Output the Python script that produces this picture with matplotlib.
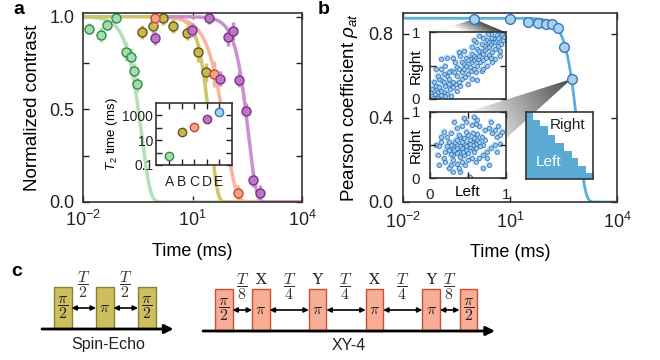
import numpy as np
import matplotlib.pyplot as plt
from matplotlib.patches import Rectangle, Polygon
from matplotlib.ticker import NullLocator

plt.rcParams['font.family'] = ['Liberation Sans', 'DejaVu Sans']
plt.rcParams['mathtext.fontset'] = 'custom'
plt.rcParams['mathtext.rm'] = 'Liberation Sans'
plt.rcParams['mathtext.it'] = 'Liberation Sans:italic'
plt.rcParams['mathtext.bf'] = 'Liberation Sans:bold'
plt.rcParams['axes.edgecolor'] = '#333333'

# ---- panel a: normalized contrast vs time, one series per sequence
green_t = [0.0146, 0.0306, 0.0463, 0.080, 0.151, 0.203, 0.249, 0.296]
green_y = [0.934, 0.903, 0.957, 0.993, 0.812, 0.782, 0.708, 0.636]
green_err = [0.03, 0.04, 0.03, 0.02, 0.05, 0.05, 0.04, 0.04]

olive_t = [0.405, 0.81, 1.58, 2.98, 6.9, 13.8, 23.4]
olive_y = [0.917, 0.951, 0.993, 0.951, 0.912, 0.807, 0.699]
olive_err = [0.04, 0.05, 0.04, 0.04, 0.04, 0.05, 0.05]

salmon_t = [0.95, 38, 180]
salmon_y = [0.993, 0.692, 0.05]
salmon_err = [0.04, 0.07, 0.04]

purple_t = [0.95, 9.8, 29, 55, 95, 131, 185, 286, 462, 705]
purple_y = [0.885, 0.928, 0.993, 0.665, 0.890, 0.924, 0.660, 0.492, 0.119, 0.050]
purple_err = [0.04, 0.04, 0.03, 0.04, 0.05, 0.05, 0.04, 0.04, 0.04, 0.04]

# fitted decay y = A exp(-(t/T)^n): (A, T, n, first time drawn)
green_fit = (1.0, 0.40, 1.8, 0.01)
olive_fit = (1.0, 31.0, 2.3, 0.01)
salmon_fit = (1.0, 80.0, 1.5, 0.9)
purple_fit = (1.0, 340.0, 2.0, 0.9)

# inset: T2 time per sequence
seq_names = ['A', 'B', 'C', 'D', 'E']
t2_ms = [0.56, 45, 126, 537, 1740]

# ---- panel b: Pearson coefficient vs time
pear_t = [1.0, 10, 31, 63, 102, 150, 218, 335, 535]
pear_y = [0.871, 0.871, 0.856, 0.851, 0.846, 0.846, 0.829, 0.737, 0.586]
pear_fit = (0.875, 814.0, 2.14)

# scatter insets (Left, Right) populations
early_left = [0.05, 0.08, 0.12, 0.15, 0.18, 0.22, 0.25, 0.28, 0.32, 0.35, 0.38, 0.42, 0.45, 0.48, 0.52,
              0.55, 0.58, 0.62, 0.65, 0.68, 0.72, 0.75, 0.78, 0.82, 0.85, 0.88, 0.92, 0.70, 0.60, 0.80,
              0.10, 0.14, 0.18, 0.22, 0.26, 0.30, 0.34, 0.38, 0.42, 0.46, 0.50, 0.54, 0.58, 0.62, 0.66,
              0.70, 0.74, 0.78, 0.82, 0.86, 0.90, 0.94, 0.96, 0.20, 0.40, 0.60, 0.80, 0.35, 0.55, 0.92,
              0.02, 0.04, 0.06, 0.03, 0.10, 0.12, 0.15, 0.20, 0.25, 0.18, 0.30, 0.33, 0.40, 0.42, 0.45,
              0.48, 0.50, 0.52, 0.55, 0.58, 0.60, 0.63, 0.65, 0.68, 0.70, 0.72, 0.75, 0.78, 0.80, 0.83,
              0.86, 0.88, 0.90, 0.95, 0.97, 0.62, 0.75, 0.85, 0.30, 0.22, 0.10, 0.08, 0.28, 0.50, 0.68,
              0.38, 0.55, 0.45, 0.15, 0.35, 0.25, 0.20, 0.15, 0.05, 0.92, 0.70, 0.82, 0.58, 0.65, 0.76]
early_right = [0.12, 0.20, 0.18, 0.28, 0.25, 0.35, 0.30, 0.42, 0.40, 0.48, 0.45, 0.55, 0.52, 0.62, 0.60,
               0.68, 0.65, 0.75, 0.72, 0.82, 0.80, 0.88, 0.85, 0.92, 0.90, 0.96, 0.95, 0.92, 0.85, 0.97,
               0.02, 0.06, 0.10, 0.08, 0.15, 0.18, 0.22, 0.25, 0.30, 0.33, 0.38, 0.42, 0.45, 0.50, 0.55,
               0.58, 0.62, 0.66, 0.70, 0.75, 0.80, 0.82, 0.88, 0.05, 0.20, 0.40, 0.62, 0.12, 0.30, 0.72,
               0.05, 0.02, 0.08, 0.15, 0.10, 0.30, 0.45, 0.50, 0.40, 0.38, 0.25, 0.55, 0.65, 0.40, 0.45,
               0.50, 0.58, 0.48, 0.55, 0.58, 0.62, 0.60, 0.65, 0.70, 0.68, 0.74, 0.76, 0.78, 0.82, 0.85,
               0.86, 0.88, 0.92, 0.97, 0.93, 0.28, 0.50, 0.60, 0.62, 0.62, 0.35, 0.45, 0.05, 0.22, 0.42,
               0.70, 0.78, 0.72, 0.60, 0.35, 0.22, 0.20, 0.12, 0.25, 0.65, 0.45, 0.55, 0.88, 0.95, 0.98]

late_left = [0.30, 0.35, 0.40, 0.45, 0.50, 0.55, 0.60, 0.38, 0.42, 0.48, 0.52, 0.58, 0.62, 0.33, 0.28,
             0.25, 0.45, 0.50, 0.40, 0.35, 0.55, 0.65, 0.68, 0.60, 0.45, 0.40, 0.50, 0.30, 0.22, 0.25,
             0.70, 0.72, 0.42, 0.47, 0.53, 0.57, 0.35, 0.38, 0.48, 0.56, 0.62, 0.44, 0.32, 0.27, 0.36,
             0.52, 0.58, 0.66,
             0.10, 0.12, 0.15, 0.18, 0.15, 0.20, 0.20, 0.28, 0.30, 0.35, 0.38, 0.42, 0.46, 0.50, 0.55,
             0.60, 0.65, 0.75, 0.80, 0.85, 0.88, 0.92, 0.82, 0.78, 0.72, 0.65, 0.60, 0.55, 0.48, 0.42,
             0.35, 0.28, 0.22, 0.18, 0.25, 0.52, 0.70, 0.78, 0.85, 0.90, 0.95, 0.80, 0.58, 0.62, 0.45,
             0.32, 0.70, 0.75, 0.12, 0.08, 0.40, 0.30, 0.88, 0.92]
late_right = [0.45, 0.50, 0.48, 0.52, 0.50, 0.55, 0.52, 0.40, 0.45, 0.42, 0.58, 0.60, 0.58, 0.55, 0.50,
              0.42, 0.60, 0.65, 0.62, 0.38, 0.45, 0.55, 0.62, 0.45, 0.35, 0.32, 0.38, 0.35, 0.48, 0.55,
              0.50, 0.58, 0.55, 0.48, 0.47, 0.50, 0.58, 0.65, 0.70, 0.68, 0.66, 0.40, 0.42, 0.36, 0.45,
              0.52, 0.40, 0.48,
              0.35, 0.48, 0.55, 0.30, 0.62, 0.40, 0.25, 0.20, 0.28, 0.22, 0.15, 0.25, 0.20, 0.28, 0.30,
              0.25, 0.30, 0.40, 0.45, 0.50, 0.62, 0.65, 0.68, 0.75, 0.72, 0.78, 0.82, 0.80, 0.85, 0.78,
              0.75, 0.68, 0.62, 0.70, 0.15, 0.02, 0.15, 0.20, 0.72, 0.78, 0.70, 0.85, 0.92, 0.88, 0.90,
              0.85, 0.35, 0.30, 0.20, 0.50, 0.10, 0.10, 0.40, 0.52]

# staircase inset (Left filling up to each level)
stair_edges = [0.0, 0.1, 0.21, 0.33, 0.44, 0.56, 0.68, 0.78, 0.89, 1.0]
stair_levels = [1.0, 0.885, 0.785, 0.66, 0.535, 0.42, 0.31, 0.2, 0.09]

# ---- panel c: pulse sequences (free evolution in units of T)
se_pulses = [r'$\dfrac{\pi}{2}$', r'$\pi$', r'$\dfrac{\pi}{2}$']
se_names = ['', '', '']
se_gaps = [1/2, 1/2]
se_gap_labels = [r'$\dfrac{T}{2}$', r'$\dfrac{T}{2}$']

xy_pulses = [r'$\dfrac{\pi}{2}$', r'$\pi$', r'$\pi$', r'$\pi$', r'$\pi$', r'$\dfrac{\pi}{2}$']
xy_names = ['', 'X', 'Y', 'X', 'Y', '']
xy_gaps = [1/8, 1/4, 1/4, 1/4, 1/8]
xy_gap_labels = [r'$\dfrac{T}{8}$', r'$\dfrac{T}{4}$', r'$\dfrac{T}{4}$', r'$\dfrac{T}{4}$', r'$\dfrac{T}{8}$']

GREEN = ('#b4dfb7', '#a6dbae', '#2f8c48')
OLIVE = ('#d2c466', '#c9b94c', '#5f5818')
SALMON = ('#f8b49c', '#f5a385', '#c8482e')
PURPLE = ('#c98fcf', '#bb78c2', '#7e2f8c')
BLUE = ('#5aaedc', '#a9d1ee', '#3378bd')


def decay(t, amp, tau, n):
    return amp * np.exp(-(t / tau) ** n)


def style(ax, size=13, length=4, pad=6):
    ax.tick_params(direction='in', top=True, right=True, length=length, width=1,
                   labelsize=size, pad=pad, colors='#222222')
    for s in ax.spines.values():
        s.set_linewidth(1.2)


fig = plt.figure(figsize=(6.6, 3.6), dpi=100)

# overlay in pixel coordinates for wedges and schematics
ov = fig.add_axes([0, 0, 1, 1], zorder=0.5)
ov.set_xlim(0, 660)
ov.set_ylim(360, 0)
ov.axis('off')

# ---------------- panel a
axa = fig.add_axes([0.1258, 0.4389, 0.3318, 0.525], zorder=1)
series = [(green_t, green_y, green_err, green_fit, GREEN),
          (olive_t, olive_y, olive_err, olive_fit, OLIVE),
          (salmon_t, salmon_y, salmon_err, salmon_fit, SALMON),
          (purple_t, purple_y, purple_err, purple_fit, PURPLE)]
for t, y, e, fit, col in series:
    tt = np.logspace(np.log10(fit[3]), 4, 400)
    axa.plot(tt, decay(tt, *fit[:3]), color=col[0], lw=2.5, solid_capstyle='butt')
for t, y, e, fit, col in series:
    axa.errorbar(t, y, yerr=e, fmt='none', ecolor=col[0], elinewidth=2.5, capsize=0)
    axa.plot(t, y, 'o', ms=6.5, mfc=col[1], mec=col[2], mew=1.0)
axa.set_xscale('log')
axa.set_xlim(1e-2, 1e4)
axa.set_ylim(0, 1.02)
axa.set_xticks([1e-2, 1e1, 1e4])
axa.xaxis.set_minor_locator(NullLocator())
axa.set_yticks([0, 0.25, 0.5, 0.75, 1.0])
axa.set_yticklabels(['0.0', '', '0.5', '', '1.0'])
style(axa)
axa.set_xlabel('Time (ms)', fontsize=13, labelpad=9)
axa.set_ylabel('Normalized contrast', fontsize=13.5, labelpad=6)

ina = fig.add_axes([0.2364, 0.5417, 0.1152, 0.1722], zorder=2)
cols = [GREEN, OLIVE, SALMON, PURPLE, BLUE]
for i, (v, col) in enumerate(zip(t2_ms, cols)):
    ina.plot(i, v, 'o', ms=6, mfc=col[1], mec=col[2], mew=1.0)
ina.set_yscale('log')
ina.set_ylim(0.1, 1e4)
ina.set_xlim(-1.05, 5.05)
ina.set_xticks(range(len(seq_names)))
ina.set_xticklabels(seq_names)
ina.set_yticks([0.1, 1, 10, 100, 1000])
ina.set_yticklabels(['0.1', '', '10', '', '1000'])
ina.yaxis.set_minor_locator(NullLocator())
style(ina, size=10, length=4, pad=2)
ina.tick_params(axis='x', pad=7)
ina.set_ylabel('$T_2$ time (ms)', fontsize=9.5, labelpad=2)

# ---------------- panel b
axb = fig.add_axes([0.6106, 0.4389, 0.3242, 0.525], zorder=1)
axb.patch.set_visible(False)
tt = np.logspace(-2, 4, 400)
axb.plot(tt, decay(tt, *pear_fit), color=BLUE[0], lw=2)
axb.plot(pear_t, pear_y, 'o', ms=7, mfc=BLUE[1], mec=BLUE[2], mew=1.0)
axb.set_xscale('log')
axb.set_xlim(1e-2, 1e4)
axb.set_ylim(0, 0.9)
axb.set_xticks([1e-2, 1e1, 1e4])
axb.xaxis.set_minor_locator(NullLocator())
axb.set_yticks([0, 0.4, 0.8])
axb.set_yticklabels(['0.0', '0.4', '0.8'])
style(axb, pad=7)
axb.set_xlabel('Time (ms)', fontsize=13, labelpad=9)
axb.set_ylabel(r'Pearson coefficient $\rho_{at}$', fontsize=13.5, labelpad=6)

ins1 = fig.add_axes([0.6515, 0.725, 0.1152, 0.185], zorder=2)
ins2 = fig.add_axes([0.6515, 0.5047, 0.1152, 0.185], zorder=2)
for ax, lx, ry in [(ins1, early_left, early_right), (ins2, late_left, late_right)]:
    ax.scatter(lx, ry, s=22, facecolor='#6fb2e0', edgecolor='none', alpha=0.5)
    ax.scatter(lx, ry, s=8, facecolor='#a9d1ee', edgecolor='#2f6fb8', linewidth=0.6, alpha=0.9)
    ax.set_xlim(0, 1)
    ax.set_ylim(0, 1)
    ax.set_yticks([0, 0.5, 1])
    ax.set_yticklabels(['0', '', '1'])
    ax.set_xticks([0, 0.5, 1])
    style(ax, size=11, length=4, pad=7)
    ax.set_ylabel('Right', fontsize=11)
    ax.yaxis.set_label_coords(-0.1, 0.5)
ins1.set_xticklabels([])
ins1.tick_params(axis='x', top=False, bottom=False)
ins2.set_xticklabels(['0', '', '1'])
ins2.set_xlabel('Left', fontsize=11)
ins2.xaxis.set_label_coords(0.5, -0.1)

ins3 = fig.add_axes([0.797, 0.5028, 0.1015, 0.186], zorder=2)
ins3.stairs(stair_levels, stair_edges, fill=True, baseline=0, color='#5aaad4')
ins3.set_xlim(0, 1)
ins3.set_ylim(0, 1)
ins3.set_xticks([])
ins3.set_yticks([])
for s in ins3.spines.values():
    s.set_linewidth(1.2)
ins3.text(0.62, 0.81, 'Right', fontsize=11, ha='center', va='center', color='#222222')
ins3.text(0.34, 0.25, 'Left', fontsize=11, ha='center', va='center', color='white')


# gray "zoom" wedges from a data point to an inset
def to_px(trans, xy):
    return ov.transData.inverted().transform(trans.transform(xy))


def wedge(apex, p1, p2):
    pts = np.array([apex, p1, p2])
    x0, y0 = pts.min(axis=0)
    x1, y1 = pts.max(axis=0)
    gx, gy = np.meshgrid(np.linspace(x0, x1, 120), np.linspace(y0, y1, 120))
    d = (p1 + p2) / 2 - apex
    frac = ((gx - apex[0]) * d[0] + (gy - apex[1]) * d[1]) / (d @ d)
    im = ov.imshow(frac, extent=(x0, x1, y0, y1), origin='lower', cmap='gray',
                   vmin=-0.45, vmax=1.15, aspect='auto', interpolation='bilinear')
    poly = Polygon(pts, closed=True, transform=ov.transData, fc='none', ec='none')
    ov.add_patch(poly)
    im.set_clip_path(poly)


wedge(to_px(axb.transData, (pear_t[0], pear_y[0])),
      to_px(ins1.transAxes, (0, 1)), to_px(ins1.transAxes, (1, 1)))
wedge(to_px(axb.transData, (pear_t[-1], pear_y[-1])),
      to_px(ins2.transAxes, (0.5, 1)), to_px(ins2.transAxes, (1, 0.6)))
ov.set_xlim(0, 660)
ov.set_ylim(360, 0)


# ---------------- panel c
def sequence(x0, base, scale, gaps, pulses, names, gap_labels, face, edge, title):
    w, h = 17.5, 42
    lefts = [x0]
    for g in gaps:
        lefts.append(lefts[-1] + w + g * scale)
    ov.annotate('', xy=(lefts[-1] + w + 18, base), xytext=(x0 - 12, base),
                arrowprops=dict(arrowstyle='-|>', lw=2, color='black', mutation_scale=13,
                                shrinkA=0, shrinkB=0))
    for l, p, n in zip(lefts, pulses, names):
        ov.add_patch(Rectangle((l, base - h), w, h, fc=face, ec=edge, lw=1))
        ov.text(l + w / 2, base - h / 2, p, fontsize=11.5, ha='center', va='center',
                math_fontfamily='cm', color='#222222')
        if n:
            ov.text(l + w / 2, base - h - 9, n, fontsize=11, ha='center', va='center',
                    family='DejaVu Serif', color='#222222')
    mid = base - h / 2
    for i, g in enumerate(gap_labels):
        a = lefts[i] + w
        b = lefts[i + 1]
        ov.annotate('', xy=(b, mid), xytext=(a, mid),
                    arrowprops=dict(arrowstyle='<|-|>', lw=1.2, color='black', mutation_scale=7,
                                    shrinkA=0, shrinkB=0))
        ov.text((a + b) / 2, base - h - 2, g, fontsize=11.5, ha='center', va='center',
                math_fontfamily='cm', color='#333333')
    ov.text((x0 - 12 + lefts[-1] + w + 18) / 2, base + 15, title, fontsize=11.5,
            ha='center', va='center', color='#222222')


sequence(54, 329, 49, se_gaps, se_pulses, se_names, se_gap_labels, '#cdbf5e', '#8a8030', 'Spin-Echo')
sequence(215, 331, 157, xy_gaps, xy_pulses, xy_names, xy_gap_labels, '#f7ae94', '#c8503a', 'XY-4')

for lbl, x, y in [('a', 19, 9), ('b', 324, 9), ('c', 17, 272)]:
    ov.text(x, y, lbl, fontsize=14, fontweight='bold', ha='center', va='center')

fig.savefig('out.png', dpi=100)
